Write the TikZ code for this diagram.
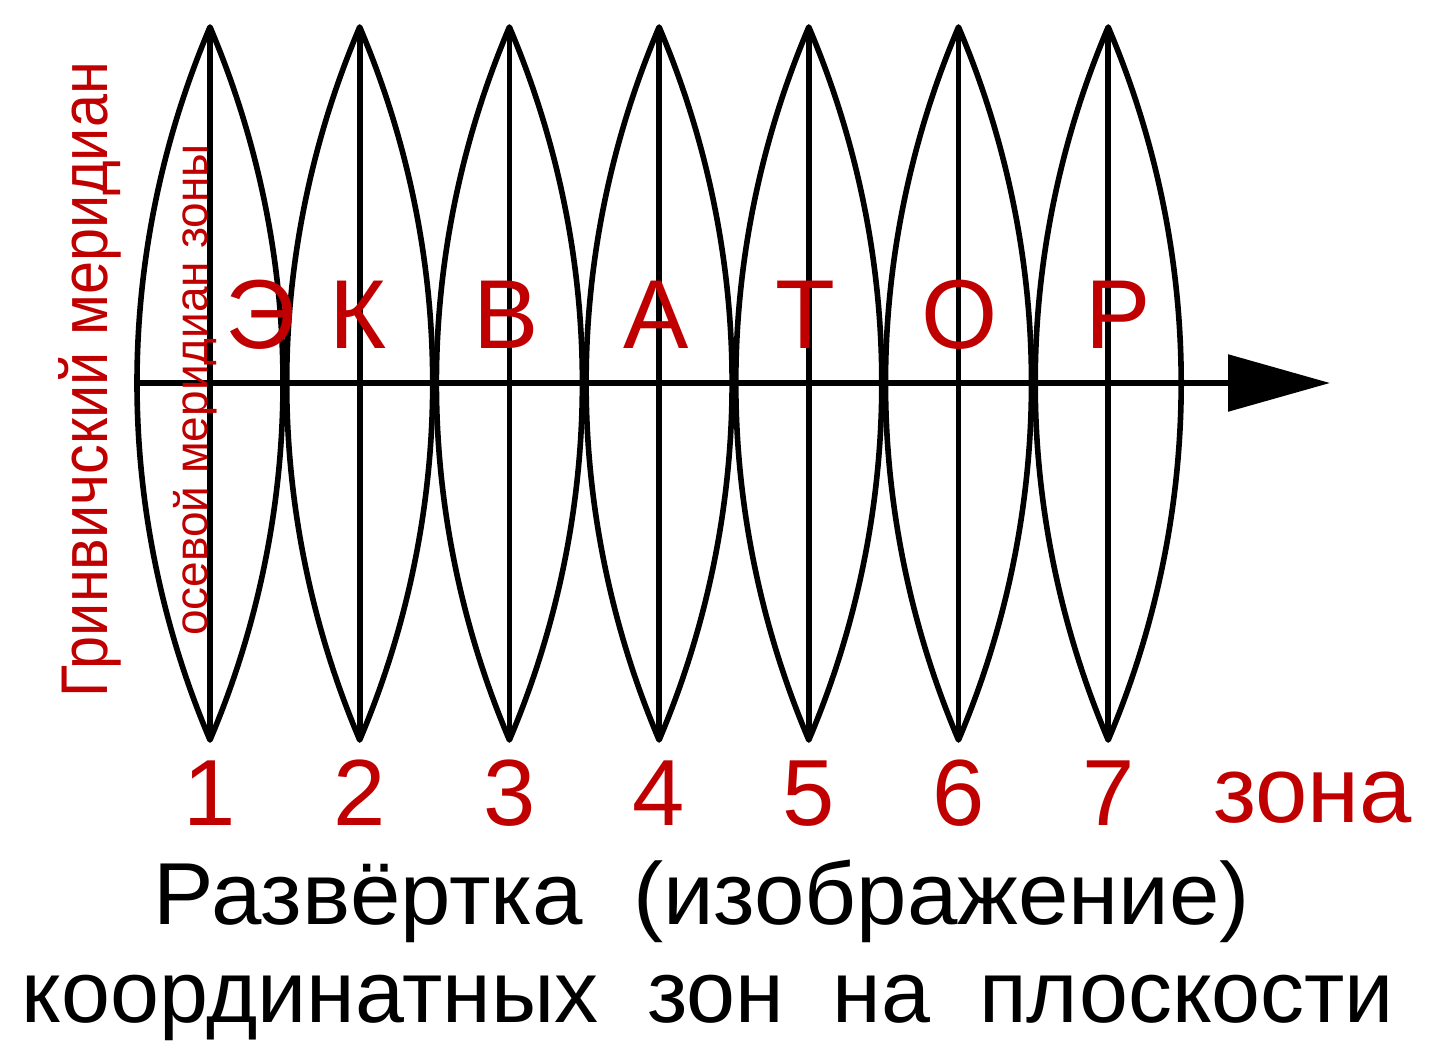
\documentclass[tikz,border=0pt]{standalone}
\usepackage{fontspec}
\setmainfont{Liberation Sans}
\usetikzlibrary{arrows.meta}
\definecolor{zred}{RGB}{192,0,0}
\tikzset{
  gore/.style={draw=black, line width=2.8pt, line join=round},
  axisline/.style={draw=black, line width=2.8pt},
  equator/.style={draw=black, line width=2.8pt, -{Triangle[length=51pt,width=28pt]}},
  bigletter/.style={text=zred, font=\fontsize{49}{49}\selectfont, anchor=base, inner sep=0pt},
  zonenum/.style={text=zred, font=\fontsize{47}{47}\selectfont, anchor=base, inner sep=0pt},
  caption/.style={text=black, font=\fontsize{44}{44}\selectfont, anchor=base, inner sep=0pt},
}
\begin{document}
\begin{tikzpicture}[x=0.5pt, y=-0.5pt]
\useasboundingbox[fill=white] (0,0) rectangle (1441,1044);
% gores
\foreach \i in {1,...,7}{
  \pgfmathsetmacro{\c}{210+149.7*(\i-1)}
  \coordinate (t\i) at (\c,27);
  \coordinate (b\i) at (\c,740);
  \draw[gore] (t\i) .. controls (\c+48,140) and (\c+73,261) .. (\c+73,383)
     .. controls (\c+73,505) and (\c+48,627) .. (b\i)
     .. controls (\c-48,627) and (\c-73,505) .. (\c-73,383)
     .. controls (\c-73,261) and (\c-48,140) .. (t\i) -- cycle;
  \draw[axisline] (t\i) -- (b\i);
  \node[zonenum] (n\i) at (\c,825) {\i};
}
% equator
\coordinate (eqL) at (140,383);
\coordinate (eqR) at (1330,383);
\draw[equator] (eqL) -- (eqR);
% equator letters
\node[bigletter] (l1) at (261,348) {Э};
\node[bigletter] (l2) at (358,348) {К};
\node[bigletter] (l3) at (506,348) {В};
\node[bigletter] (l4) at (656,348) {А};
\node[bigletter] (l5) at (805,348) {Т};
\node[bigletter] (l6) at (960,348) {О};
\node[bigletter] (l7) at (1118,348) {Р};
% zone word
\node[zonenum, anchor=base west] (zw) at (1213,822) {зона};
% meridian labels
\node[text=zred, font=\fontsize{33}{33}\selectfont, rotate=90, anchor=base, inner sep=0pt, xscale=0.9] (gm) at (107,380) {Гринвичский меридиан};
\node[text=zred, font=\fontsize{23}{23}\selectfont, rotate=90, anchor=base, inner sep=0pt] (om) at (207,390) {осевой меридиан зоны};
% caption
\node[caption, xscale=1.03] (c1) at (702,924) {Развёртка\ \ (изображение)};
\node[caption] (c2) at (708,1022) {координатных\ \ зон\ \ на\ \ плоскости};
\end{tikzpicture}
\end{document}
